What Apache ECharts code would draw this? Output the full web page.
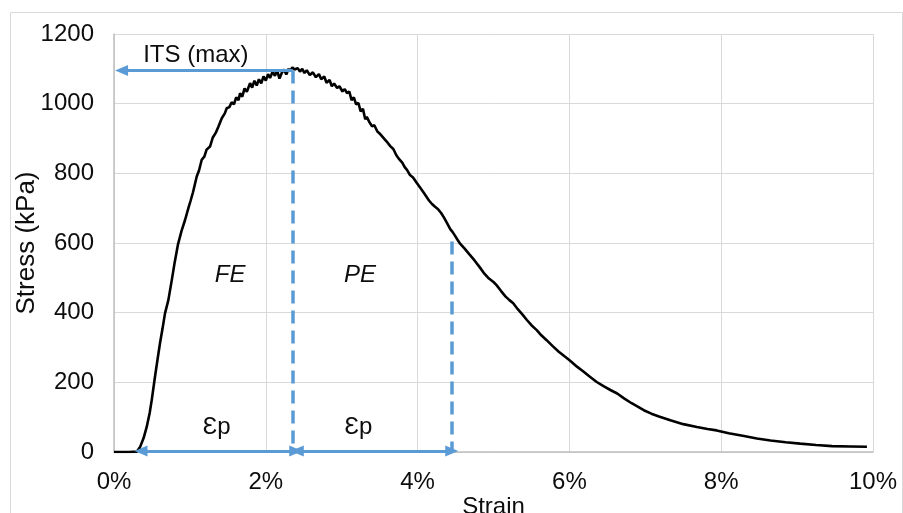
<!DOCTYPE html>
<html>
<head>
<meta charset="utf-8">
<script src="https://cdn.jsdelivr.net/npm/echarts@6/dist/echarts.min.js"></script>
<style>html,body{margin:0;padding:0;background:#fff;}#c{width:903px;height:513px;}</style>
</head>
<body>
<div id="c"></div>
<script>
// Strain (%) values
const strain = [0, 0.10, 0.20, 0.30, 0.343, 0.39, 0.431, 0.47, 0.497, 0.54, 0.58, 0.606, 0.64, 0.672, 0.716, 0.764, 0.80, 0.844, 0.89, 0.936, 0.98, 1.01, 1.04, 1.09, 1.12, 1.156, 1.19, 1.22, 1.265, 1.30, 1.34, 1.375, 1.42, 1.46, 1.485, 1.52, 1.55, 1.58, 1.61, 1.64, 1.661, 1.69, 1.72, 1.75, 1.793, 1.82, 1.85, 1.88, 1.91, 1.94, 1.97, 2.00, 2.03, 2.056, 2.09, 2.12, 2.15, 2.18, 2.21, 2.24, 2.27, 2.30, 2.32, 2.35, 2.38, 2.42, 2.45, 2.48, 2.51, 2.54, 2.58, 2.62, 2.66, 2.70, 2.73, 2.77, 2.80, 2.84, 2.87, 2.90, 2.94, 2.97, 3.01, 3.04, 3.07, 3.10, 3.13, 3.16, 3.19, 3.22, 3.25, 3.28, 3.31, 3.33, 3.37, 3.40, 3.43, 3.47, 3.51, 3.55, 3.59, 3.64, 3.68, 3.72, 3.76, 3.80, 3.83, 3.86, 3.90, 3.94, 3.99, 4.03, 4.07, 4.11, 4.15, 4.19, 4.23, 4.27, 4.31, 4.35, 4.39, 4.43, 4.46, 4.49, 4.53, 4.56, 4.62, 4.68, 4.75, 4.82, 4.88, 4.94, 5.00, 5.04, 5.10, 5.16, 5.21, 5.26, 5.32, 5.38, 5.44, 5.50, 5.57, 5.63, 5.70, 5.78, 5.86, 5.94, 6.01, 6.10, 6.18, 6.27, 6.36, 6.45, 6.54, 6.63, 6.72, 6.82, 6.90, 6.98, 7.08, 7.18, 7.33, 7.50, 7.68, 7.82, 7.94, 8.10, 8.30, 8.47, 8.65, 8.85, 9.04, 9.25, 9.46, 9.70, 9.92];
// Stress (kPa) values
const stress = [0, 0, 0, 1, 14, 40, 72, 112, 149, 216, 275, 312, 355, 398, 436, 497, 545, 597, 635, 666, 700, 722, 745, 791, 808, 839, 848, 868, 877, 902, 916, 934, 958, 972, 987, 990, 1004, 998, 1018, 1010, 1030, 1020, 1044, 1034, 1059, 1046, 1066, 1052, 1070, 1058, 1078, 1066, 1085, 1074, 1092, 1080, 1095, 1072, 1088, 1098, 1084, 1100, 1093, 1104, 1098, 1102, 1092, 1100, 1088, 1096, 1082, 1090, 1076, 1085, 1070, 1078, 1060, 1068, 1050, 1058, 1045, 1050, 1035, 1042, 1030, 1035, 1010, 1018, 998, 1002, 978, 985, 955, 962, 945, 935, 938, 920, 912, 902, 892, 878, 870, 852, 840, 830, 818, 810, 795, 788, 772, 760, 748, 735, 722, 712, 704, 697, 686, 672, 656, 640, 632, 622, 608, 598, 584, 568, 550, 530, 512, 498, 488, 479, 462, 446, 436, 427, 410, 395, 379, 364, 350, 335, 321, 304, 288, 274, 262, 245, 232, 216, 201, 189, 178, 168, 154, 140, 130, 120, 110, 102, 91, 80, 72, 66, 62, 54, 46, 39, 33, 28, 24, 20, 17, 16, 15];
// Axis ticks
const xTicks = [0, 2, 4, 6, 8, 10];
const yTicks = [0, 200, 400, 600, 800, 1000, 1200];
// Annotation values
const itsValue = 1095;       // ITS (max) level, kPa
const peakStrain = 2.355;    // strain at ITS, %
const startStrain = 0.356;   // start of first εp arrow, %
const endStrain = 4.45;      // end of second εp arrow, %
const endStress = 604;       // top of second dashed line, kPa
const itsArrowEnd = 0.1;     // tip of ITS arrow, %
const epsLevel = 3;          // εp arrows level, kPa
const labels = [
  {name: 'ITS (max)', x: 1.078, y: 1139, italic: false},
  {name: 'FE', x: 1.53, y: 508, italic: true},
  {name: 'PE', x: 3.24, y: 508, italic: true},
  {name: 'Ɛp', x: 1.354, y: 72, italic: false},
  {name: 'Ɛp', x: 3.22, y: 72, italic: false}
];

const FONT = '"Liberation Sans", Arial, sans-serif';
const BLUE = '#5B9BD5';
const TXT = '#0d0d0d';
const curve = strain.map((s, i) => [s, stress[i]]);

const chart = echarts.init(document.getElementById('c'), null, {renderer: 'canvas'});
chart.setOption({
  animation: false,
  backgroundColor: '#fff',
  textStyle: {fontFamily: FONT},
  graphic: [{
    type: 'rect', silent: true,
    shape: {x: 10.5, y: 12.5, width: 892, height: 520},
    style: {fill: 'none', stroke: '#d9d9d9', lineWidth: 1}
  }],
  grid: {left: 114, right: 30, top: 34, bottom: 61, containLabel: false, outerBoundsMode: 'none'},
  xAxis: {
    type: 'value', min: xTicks[0], max: xTicks[xTicks.length - 1], interval: 2,
    name: 'Strain', nameLocation: 'middle', nameGap: 43, nameMoveOverlap: false,
    nameTextStyle: {fontSize: 24, color: TXT, fontFamily: FONT},
    axisLine: {show: true, lineStyle: {color: '#bfbfbf', width: 1.5}},
    axisTick: {show: false},
    splitLine: {show: true, lineStyle: {color: '#d9d9d9', width: 1}},
    axisLabel: {fontSize: 24, color: TXT, margin: 18, fontFamily: FONT, formatter: v => v + '%'}
  },
  yAxis: {
    type: 'value', min: yTicks[0], max: yTicks[yTicks.length - 1], interval: 200,
    name: 'Stress (kPa)', nameLocation: 'middle', nameGap: 74, nameMoveOverlap: false,
    nameTextStyle: {fontSize: 26, color: TXT, fontFamily: FONT},
    axisLine: {show: true, lineStyle: {color: '#bfbfbf', width: 1.5}},
    axisTick: {show: false},
    splitLine: {show: true, lineStyle: {color: '#d9d9d9', width: 1}},
    axisLabel: {fontSize: 24, color: TXT, margin: 20, fontFamily: FONT, formatter: v => String(v)}
  },
  series: [
    {
      type: 'line', data: [], silent: true,
      markLine: {
        silent: true, animation: false,
        symbol: ['none', 'none'],
        label: {show: false},
        lineStyle: {color: BLUE, width: 3.5, type: [13, 7]},
        data: [
          [{coord: [peakStrain, itsValue]}, {coord: [peakStrain, 0]}],
          [{coord: [endStrain, endStress]}, {coord: [endStrain, 0]}],
          [{coord: [peakStrain, itsValue], symbol: 'none', lineStyle: {type: 'solid', width: 3}},
           {coord: [itsArrowEnd, itsValue], symbol: 'triangle', symbolSize: [11, 13]}],
          [{coord: [startStrain, epsLevel], symbol: 'triangle', symbolSize: [11, 13], lineStyle: {type: 'solid', width: 3}},
           {coord: [peakStrain + 0.04, epsLevel], symbol: 'triangle', symbolSize: [11, 13]}],
          [{coord: [peakStrain + 0.06, epsLevel], symbol: 'triangle', symbolSize: [11, 13], lineStyle: {type: 'solid', width: 3}},
           {coord: [endStrain, epsLevel], symbol: 'triangle', symbolSize: [11, 13]}]
        ]
      }
    },
    {
      type: 'line', data: curve, showSymbol: false, silent: true, smooth: false,
      lineStyle: {color: '#000', width: 2.6}, z: 3
    },
    {
      type: 'scatter', symbolSize: 0, silent: true, z: 4,
      itemStyle: {opacity: 1},
      data: labels.map(l => ({
        value: [l.x, l.y], name: l.name,
        label: {fontStyle: l.italic ? 'italic' : 'normal'}
      })),
      label: {show: true, position: 'inside', formatter: p => p.name, fontSize: 24, color: TXT, opacity: 1, fontFamily: FONT}
    }
  ]
});
</script>
</body>
</html>
